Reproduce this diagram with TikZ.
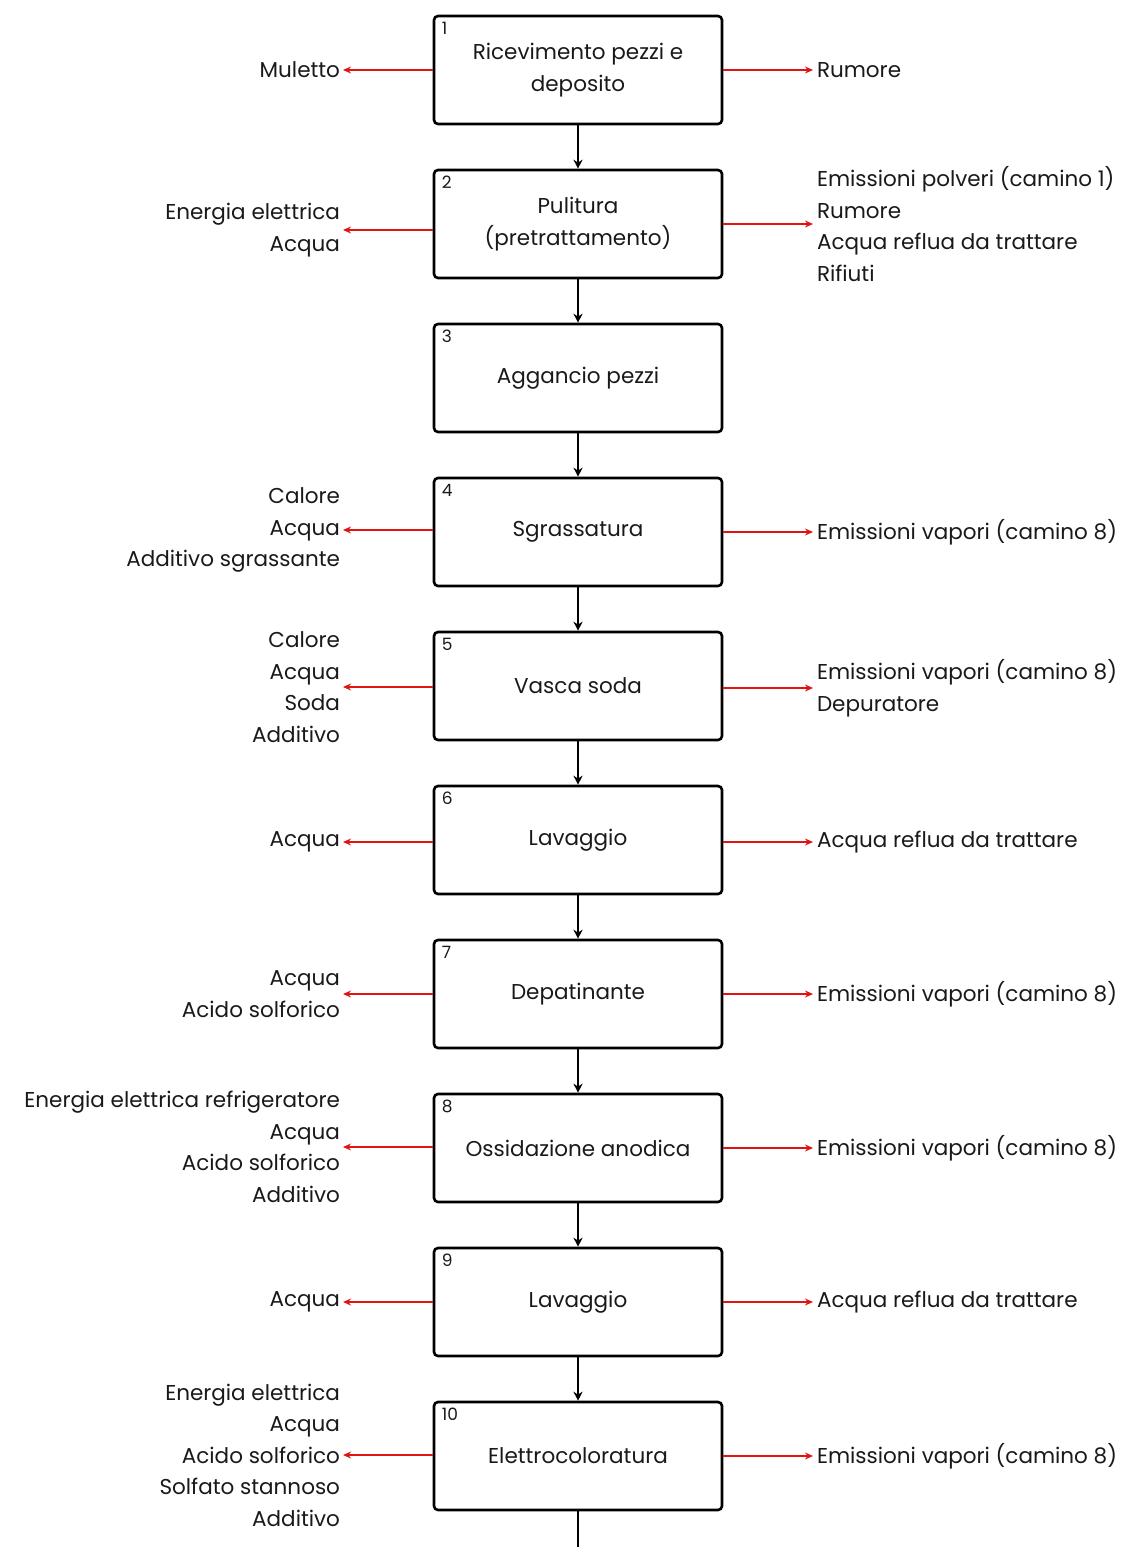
\documentclass[tikz,border=0pt]{standalone}
\usepackage{fontspec}
\setmainfont{Poppins}
\usetikzlibrary{arrows.meta,positioning}
\definecolor{arrred}{RGB}{225,20,20}
\definecolor{txt}{RGB}{25,25,25}
\begin{document}
\begin{tikzpicture}[x=1pt,y=-1pt,
  stepbox/.style={draw=black,line width=2.6pt,rounded corners=4pt,minimum width=288pt,minimum height=108pt,inner sep=0pt,align=center,font=\fontsize{21.5}{32}\selectfont,text=txt},
  numlab/.style={anchor=north west,inner sep=0pt,font=\fontsize{17}{19}\selectfont,text=txt},
  leftlab/.style={anchor=east,align=right,inner sep=0pt,outer sep=3pt,font=\fontsize{21.5}{31.5}\selectfont,text=txt},
  rightlab/.style={anchor=west,align=left,inner sep=0pt,outer sep=4pt,font=\fontsize{21.5}{31.5}\selectfont,text=txt},
  flow/.style={-{Stealth[length=9pt,width=9pt]},line width=2.4pt,black},
  redarr/.style={-{Stealth[length=8pt,width=7pt]},line width=2.3pt,arrred}]
\useasboundingbox (0,0) rectangle (1123,1547);
% boxes
\node[stepbox] (b1) at (578,70) {Ricevimento pezzi e\\deposito};
\node[stepbox] (b2) at (578,224) {Pulitura\\(pretrattamento)};
\node[stepbox] (b3) at (578,378) {Aggancio pezzi};
\node[stepbox] (b4) at (578,532) {Sgrassatura};
\node[stepbox] (b5) at (578,686) {Vasca soda};
\node[stepbox] (b6) at (578,840) {Lavaggio};
\node[stepbox] (b7) at (578,994) {Depatinante};
\node[stepbox] (b8) at (578,1148) {Ossidazione anodica};
\node[stepbox] (b9) at (578,1302) {Lavaggio};
\node[stepbox] (b10) at (578,1456) {Elettrocoloratura};
% numbers
\foreach \i in {1,...,10} {\node[numlab] (n\i) at ([xshift=9pt,yshift=-7pt]b\i.north west) {\i};}
% flow arrows
\draw[flow] (b1) -- (b2);
\draw[flow] (b2) -- (b3);
\draw[flow] (b3) -- (b4);
\draw[flow] (b4) -- (b5);
\draw[flow] (b5) -- (b6);
\draw[flow] (b6) -- (b7);
\draw[flow] (b7) -- (b8);
\draw[flow] (b8) -- (b9);
\draw[flow] (b9) -- (b10);
\coordinate (bend) at (578,1547);
\draw[line width=2.4pt] (b10.south) -- (bend);
% left labels
\node[leftlab] (l1) at (343,70) {Muletto};
\node[leftlab] (l2) at (343,230) {Energia elettrica\\Acqua};
\node[leftlab] (l4) at (343,530) {Calore\\Acqua\\Additivo sgrassante};
\node[leftlab] (l5) at (343,687) {Calore\\Acqua\\Soda\\Additivo};
\node[leftlab] (l6) at (343,842) {Acqua};
\node[leftlab] (l7) at (343,994) {Acqua\\Acido solforico};
\node[leftlab] (l8) at (343,1147) {Energia elettrica refrigeratore\\Acqua\\Acido solforico\\Additivo};
\node[leftlab] (l9) at (343,1302) {Acqua};
\node[leftlab] (l10) at (343,1455) {Energia elettrica\\Acqua\\Acido solforico\\Solfato stannoso\\Additivo};
% right labels
\node[rightlab] (r1) at (813,70) {Rumore};
\node[rightlab] (r2) at (813,224) {Emissioni polveri (camino 1)\\Rumore\\Acqua reflua da trattare\\Rifiuti};
\node[rightlab] (r4) at (813,532) {Emissioni vapori (camino 8)};
\node[rightlab] (r5) at (813,688) {Emissioni vapori (camino 8)\\Depuratore};
\node[rightlab] (r6) at (813,842) {Acqua reflua da trattare};
\node[rightlab] (r7) at (813,994) {Emissioni vapori (camino 8)};
\node[rightlab] (r8) at (813,1148) {Emissioni vapori (camino 8)};
\node[rightlab] (r9) at (813,1302) {Acqua reflua da trattare};
\node[rightlab] (r10) at (813,1456) {Emissioni vapori (camino 8)};
% red arrows
\foreach \i in {1,2,4,5,6,7,8,9,10} {
  \draw[redarr] (b\i.west |- l\i.east) -- (l\i.east);
  \draw[redarr] (b\i.east |- r\i.west) -- (r\i.west);
}
\end{tikzpicture}
\end{document}
